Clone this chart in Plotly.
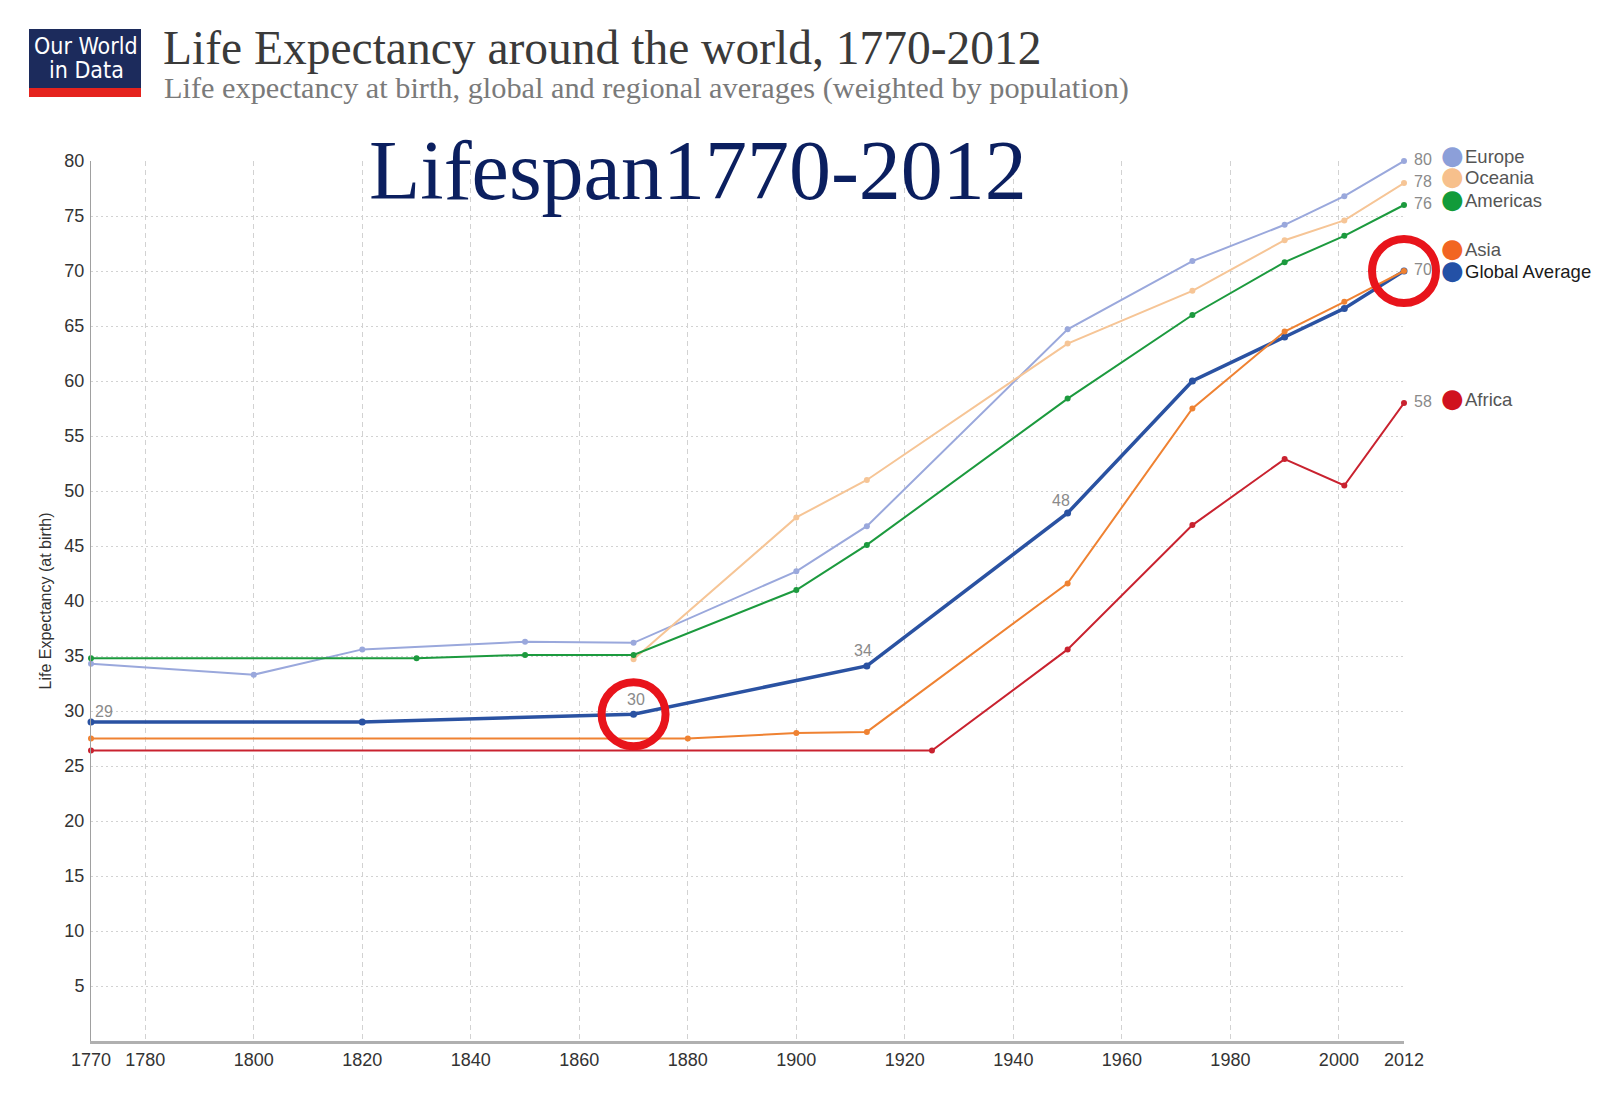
import plotly.graph_objects as go

# values
europe_years = [1770, 1800, 1820, 1850, 1870, 1900, 1913, 1950, 1973, 1990, 2001, 2012]
europe_life = [34.3, 33.3, 35.6, 36.3, 36.2, 42.7, 46.8, 64.7, 70.9, 74.2, 76.8, 80]

oceania_years = [1870, 1900, 1913, 1950, 1973, 1990, 2001, 2012]
oceania_life = [34.7, 47.6, 51.0, 63.4, 68.2, 72.8, 74.6, 78]

americas_years = [1770, 1830, 1850, 1870, 1900, 1913, 1950, 1973, 1990, 2001, 2012]
americas_life = [34.8, 34.8, 35.1, 35.1, 41.0, 45.1, 58.4, 66.0, 70.8, 73.2, 76]

asia_years = [1770, 1880, 1900, 1913, 1950, 1973, 1990, 2001, 2012]
asia_life = [27.5, 27.5, 28.0, 28.1, 41.6, 57.5, 64.5, 67.2, 70]

global_years = [1770, 1820, 1870, 1913, 1950, 1973, 1990, 2001, 2012]
global_life = [29.0, 29.0, 29.7, 34.1, 48.0, 60.0, 64.0, 66.6, 70]

africa_years = [1770, 1925, 1950, 1973, 1990, 2001, 2012]
africa_life = [26.4, 26.4, 35.6, 46.9, 52.9, 50.5, 58]

x_ticks = [1770, 1780, 1800, 1820, 1840, 1860, 1880, 1900, 1920, 1940, 1960, 1980, 2000, 2012]
y_ticks = [5, 10, 15, 20, 25, 30, 35, 40, 45, 50, 55, 60, 65, 70, 75, 80]

# global average points that carry a small value label
labelled_years = [1770, 1870, 1913, 1950]
# points circled in red
circled_years = [1870, 2012]

W, H = 1600, 1093
ML, MR, MT, MB = 83, 204, 153, 60


def px_x(p):
    return (p - ML) / (W - ML - MR)


def px_y(p):
    return (H - MB - p) / (H - MT - MB)


series = [
    # name, years, values, line colour, dot colour, line width, legend yshift, label colour
    ("Europe", europe_years, europe_life, "#9aa8dc", "#8c9fd9", 2, 5, "#555"),
    ("Oceania", oceania_years, oceania_life, "#f6c596", "#f7c08c", 2, 6, "#555"),
    ("Americas", americas_years, americas_life, "#1c9a3e", "#129b3a", 2, 5, "#555"),
    ("Global Average", global_years, global_life, "#2a52a2", "#2451a6", 3.5, 0, "#1a1a1a"),
    ("Asia", asia_years, asia_life, "#ef8232", "#f26522", 2, 22, "#555"),
    ("Africa", africa_years, africa_life, "#c9222f", "#d0121f", 2, 4, "#555"),
]

fig = go.Figure()

for name, xs, ys, lc, dc, lw, _, _ in series:
    fig.add_trace(go.Scatter(
        x=xs, y=ys, name=name, mode="lines+markers",
        line=dict(color=lc, width=lw),
        marker=dict(color=lc, size=7 if lw > 2 else 6),
        cliponaxis=False,
        hovertemplate=name + "<br>%{x}: %{y:.1f}<extra></extra>",
    ))

# red rings
ring_y = [global_life[global_years.index(yr)] for yr in circled_years]
fig.add_trace(go.Scatter(
    x=circled_years, y=ring_y, mode="markers", showlegend=False, hoverinfo="skip",
    marker=dict(symbol="circle-open", size=64, color="#e8141b",
                line=dict(color="#e8141b", width=8)),
    cliponaxis=False,
))

annotations = []

label_font = dict(family="Liberation Sans, Arial", size=16, color="#8a8a8a")

# small labels on the global average line
label_offsets = {1770: (13, 11), 1870: (2, 15), 1913: (-4, 15), 1950: (-7, 13)}
for yr in labelled_years:
    v = global_life[global_years.index(yr)]
    dx, dy = label_offsets[yr]
    annotations.append(dict(
        x=yr, y=v, text=f"{round(v):d}", showarrow=False,
        xshift=dx, yshift=dy, font=label_font,
    ))

# end values and legend entries
for name, xs, ys, lc, dc, lw, ysh, tc in series:
    if name != "Asia":
        annotations.append(dict(
            x=xs[-1], y=ys[-1], text=f"{ys[-1]:.0f}", showarrow=False,
            xanchor="left", xshift=8, yshift=2, font=label_font,
        ))
    annotations.append(dict(
        x=xs[-1], y=ys[-1], text="●", showarrow=False,
        xanchor="center", xshift=48, yshift=ysh + 1,
        font=dict(family="DejaVu Sans", size=26, color=dc),
    ))
    annotations.append(dict(
        x=xs[-1], y=ys[-1], text=name, showarrow=False,
        xanchor="left", xshift=59, yshift=ysh,
        font=dict(family="Liberation Sans, Arial", size=18.5, color=tc),
    ))

# header texts
annotations += [
    dict(xref="paper", yref="paper", x=px_x(153), y=px_y(40), xanchor="left", yanchor="middle",
         text="Life Expectancy around the world, 1770-2012", showarrow=False,
         font=dict(family="Liberation Serif, Times New Roman", size=47.5, color="#3a3a3a")),
    dict(xref="paper", yref="paper", x=px_x(154), y=px_y(80), xanchor="left", yanchor="middle",
         text="Life expectancy at birth, global and regional averages (weighted by population)",
         showarrow=False,
         font=dict(family="Liberation Serif, Times New Roman", size=30.3, color="#7a7a7a")),
    dict(xref="paper", yref="paper", x=px_x(690), y=px_y(162), xanchor="center", yanchor="middle",
         text="Lifespan1770-2012", showarrow=False,
         font=dict(family="Liberation Serif, Times New Roman", size=84, color="#0b1f5f")),
    dict(xref="paper", yref="paper", x=px_x(78), y=px_y(38), xanchor="center", yanchor="middle",
         text="Our World", showarrow=False,
         font=dict(family="Liberation Sans Narrow, DejaVu Sans Condensed, sans-serif", size=23, color="white")),
    dict(xref="paper", yref="paper", x=px_x(78), y=px_y(62), xanchor="center", yanchor="middle",
         text="in Data", showarrow=False,
         font=dict(family="Liberation Sans Narrow, DejaVu Sans Condensed, sans-serif", size=23, color="white")),
]

shapes = [
    dict(type="rect", xref="paper", yref="paper", x0=px_x(21), x1=px_x(133), y0=px_y(80), y1=px_y(21),
         fillcolor="#1c2b5c", line=dict(width=0), layer="above"),
    dict(type="rect", xref="paper", yref="paper", x0=px_x(21), x1=px_x(133), y0=px_y(89), y1=px_y(80),
         fillcolor="#e5231e", line=dict(width=0), layer="above"),
]

fig.update_layout(
    width=W, height=H,
    margin=dict(l=ML, r=MR, t=MT, b=MB, autoexpand=False),
    paper_bgcolor="white", plot_bgcolor="white",
    showlegend=False,
    annotations=annotations,
    shapes=shapes,
    font=dict(family="Liberation Sans, Arial", color="#333"),
    xaxis=dict(
        range=[1770, 2012], tickvals=x_ticks, ticktext=[str(t) for t in x_ticks],
        showgrid=True, gridcolor="#d2d2d2", griddash="5px,4px", gridwidth=1,
        showline=True, linecolor="#b0b0b0", linewidth=3,
        ticks="", tickfont=dict(size=18, color="#333"), ticklabelstandoff=0,
        zeroline=False, automargin=False,
    ),
    yaxis=dict(
        range=[0, 80], tickvals=y_ticks,
        showgrid=True, gridcolor="#d2d2d2", griddash="2px,3px", gridwidth=1,
        showline=True, linecolor="#a0a0a0", linewidth=1,
        ticks="", tickfont=dict(size=18, color="#333"), ticklabelstandoff=2,
        title=dict(text="Life Expectancy (at birth)", font=dict(size=16, color="#333"), standoff=8),
        zeroline=False, automargin=False,
    ),
)

fig.write_html("out.html")
